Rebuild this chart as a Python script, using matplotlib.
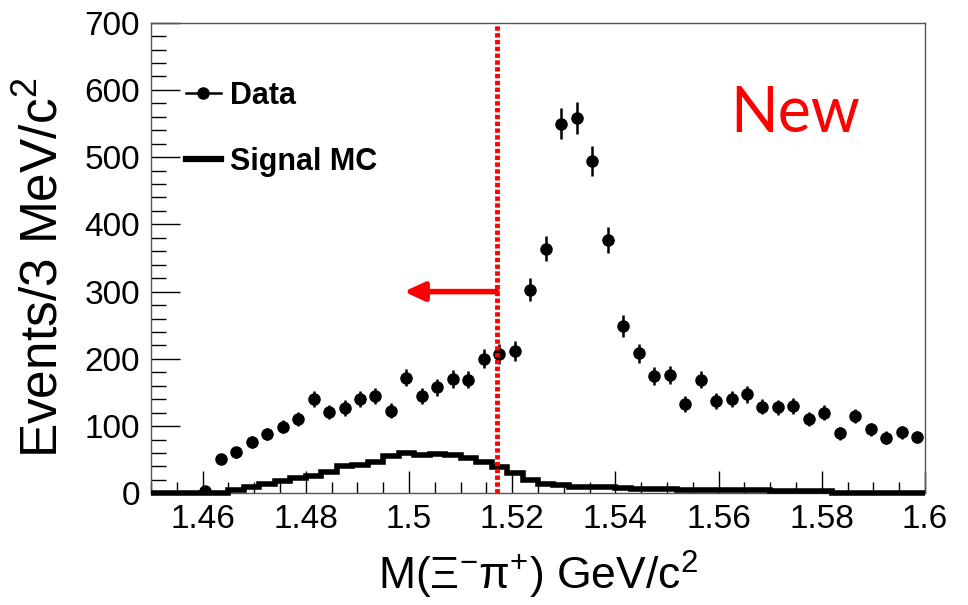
import numpy as np
import matplotlib
matplotlib.use("Agg")
import matplotlib.pyplot as plt
from matplotlib.lines import Line2D
from matplotlib.ticker import MultipleLocator

# 3 MeV bins from 1.45 to 1.60 GeV/c^2
bin_edges = np.round(np.arange(1.45, 1.6001, 0.003), 4)
bin_centers = 0.5 * (bin_edges[:-1] + bin_edges[1:])

# data: bins 3..49
data_counts = [4, 51, 61, 76, 88, 99, 110, 140, 121, 127, 140, 145, 123,
               172, 145, 158, 170, 169, 200, 207, 212, 303, 364, 550, 558,
               494, 377, 249, 208, 175, 176, 133, 169, 137, 140, 147, 129,
               128, 130, 111, 120, 89, 115, 95, 83, 91, 84]
data_x = bin_centers[3:]
data_err = np.sqrt(data_counts)

# signal MC, all 50 bins
mc_counts = [0.5, 0.5, 0.5, 0.5, 1, 4.5, 9, 14, 19, 23, 26, 32, 41, 42, 46,
             55, 60, 57, 58, 57, 53, 47, 39, 30, 20, 14, 12, 10, 10, 9, 8,
             7, 6, 6, 5, 5, 5, 4.5, 4.5, 4.5, 4, 4, 3, 3, 0.5, 0.5, 0.5,
             0.5, 0.5, 0.5]

cut_value = 1.517
arrow_end = 1.499
arrow_y = 300

plt.rcParams['font.family'] = ['Liberation Sans', 'DejaVu Sans']
plt.rcParams['mathtext.fontset'] = 'custom'
plt.rcParams['mathtext.rm'] = 'Liberation Sans'
plt.rcParams['mathtext.it'] = 'Liberation Sans:italic'

fig = plt.figure(figsize=(9.68, 6.05), dpi=100)
ax = fig.add_axes([0.156, 0.1846, 0.7996, 0.7779])

ax.stairs(mc_counts, bin_edges, color='black', linewidth=4, baseline=None,
          clip_on=False, zorder=3)
ax.errorbar(data_x, data_counts, yerr=data_err, fmt='o', color='black',
            markersize=8, elinewidth=1.8, capsize=0, zorder=4)

ax.axvline(cut_value, color='red', linewidth=3.5, linestyle=(0, (0.9, 0.5)),
           zorder=5)
ax.annotate('', xy=(arrow_end, arrow_y), xytext=(cut_value, arrow_y),
            arrowprops=dict(arrowstyle='-|>,head_length=1.2,head_width=0.55',
                            color='red', lw=4, shrinkA=0, shrinkB=0))

ax.text(0.748, 0.807, 'New', transform=ax.transAxes, color='red',
        fontsize=45, family='Lato', va='center', ha='left')

handles = [Line2D([], [], color='black', marker='o', markersize=8, lw=1.8),
           Line2D([], [], color='black', lw=4.5)]
leg = ax.legend(handles, ['Data', 'Signal MC'], loc='upper left',
                bbox_to_anchor=(0.045, 0.877), frameon=False,
                prop={'weight': 'bold', 'size': 22}, handlelength=1.15,
                handletextpad=0.3, labelspacing=1.18, borderpad=0,
                borderaxespad=0)

ax.set_xlim(1.45, 1.6)
ax.set_ylim(0, 700)
ax.xaxis.set_major_locator(MultipleLocator(0.02))
ax.xaxis.set_minor_locator(MultipleLocator(0.005))
ax.yaxis.set_major_locator(MultipleLocator(100))
ax.yaxis.set_minor_locator(MultipleLocator(20))
ax.set_xticks([1.46, 1.48, 1.5, 1.52, 1.54, 1.56, 1.58, 1.6])
ax.set_xticklabels(['1.46', '1.48', '1.5', '1.52', '1.54', '1.56', '1.58', '1.6'])

ax.tick_params(which='both', direction='in', top=False, right=False,
               labelsize=24, colors='black', pad=8)
ax.tick_params(axis='y', which='major', length=21, width=1)
ax.tick_params(axis='y', which='minor', length=11, width=1)
ax.tick_params(axis='x', which='major', length=16, width=1)
ax.tick_params(axis='x', which='minor', length=8, width=1)
for s in ax.spines.values():
    s.set_color('#555555')
    s.set_linewidth(1)

ax.set_ylabel('Events/3 MeV/c$^{2}$', fontsize=37)
ax.yaxis.set_label_coords(-0.107, 0.48)
ax.set_xlabel(r'M($\mathrm{\Xi^{-}\pi^{+}}$) GeV/c$^{2}$', fontsize=32,
              labelpad=10)

fig.savefig('out.png', dpi=100)
